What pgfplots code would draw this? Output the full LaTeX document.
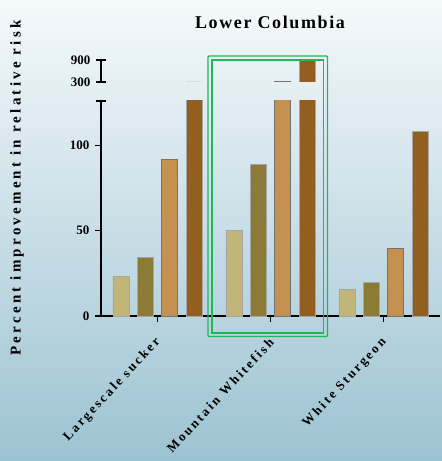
\documentclass[border=0pt]{standalone}
\usepackage{pgfplots}
\pgfplotsset{compat=1.18}
\usepackage{fontspec}
\setmainfont{Liberation Serif}
\newfontfamily\spacedA[LetterSpace=9]{Liberation Serif}
\newfontfamily\spacedB[LetterSpace=21.5]{Liberation Serif}
\newfontfamily\spacedC[LetterSpace=18]{Liberation Serif}
\definecolor{bgtop}{HTML}{F5F9FB}
\definecolor{bgmid}{HTML}{D2E6ED}
\definecolor{bgbot}{HTML}{9CC3D2}
\definecolor{cA}{HTML}{C2B57A}
\definecolor{cB}{HTML}{8C7B37}
\definecolor{cC}{HTML}{C49150}
\definecolor{cD}{HTML}{935F1F}
\definecolor{grn}{HTML}{1FB75A}
\pgfplotstableread{
x s1 s2 s3 s4
0 23.0 34.3 91.6 302
1 50.3 88.9 308 900
2 15.8 19.7 39.6 108
}\data
\pgfplotsset{
  barbase/.style={ybar, bar width=0.1416, draw=gray!70, line width=0.6pt, forget plot},
  common/.style={
    scale only axis, width=339pt, xmin=-0.5, xmax=2.5,
    axis line style={line width=1.6pt, black},
    tick style={line width=1.4pt, black},
    /pgf/number format/assume math mode=true,
    yticklabel style={font=\bfseries\fontsize{13}{13}\selectfont, xshift=-2pt},
    clip=true,
  },
}
\newcommand{\bars}{%
  \addplot[barbase, fill=cA, bar shift=-0.324] table[x=x, y=s1] {\data};
  \addplot[barbase, fill=cB, bar shift=-0.108] table[x=x, y=s2] {\data};
  \addplot[barbase, fill=cC, bar shift=0.108, draw=gray!90!black] table[x=x, y=s3] {\data};
  \addplot[barbase, fill=cD, bar shift=0.324] table[x=x, y=s4] {\data};
}
\begin{document}
\begin{tikzpicture}[x=1pt,y=1pt]
\shade[top color=bgtop, middle color=bgmid, bottom color=bgbot] (0,0) rectangle (442,461);
% lower axis
\begin{axis}[common,
  at={(101pt,145pt)}, anchor=south west, height=215pt,
  ymin=0, ymax=126,
  axis x line*=bottom, axis y line*=left,
  ytick={0,50,100},
  xtick={0,1,2},
  xticklabels={Largescale sucker, Mountain Whitefish, White Sturgeon},
  xticklabel style={font=\spacedC\bfseries\fontsize{13}{13}\selectfont, rotate=47, anchor=east, inner sep=1pt, yshift=-13.2pt, xshift=-11.9pt},
  tick align=outside, major tick length=6pt,
  extra y ticks={126}, extra y tick labels={},
  extra y tick style={tick align=center, major tick length=10pt},
]
\bars
\end{axis}
% upper axis
\begin{axis}[common,
  at={(101pt,379pt)}, anchor=south west, height=22pt,
  ymin=300, ymax=900,
  axis x line=none, axis y line*=left,
  ytick={300,900},
  tick align=center, major tick length=10pt,
  restrict y to domain=300:1000, unbounded coords=discard,
]
\bars
\end{axis}
% highlight box
\draw[grn, line width=1.3pt, rounded corners=1pt] (208,124.5) rectangle (327.5,405);
\draw[grn, line width=1.3pt] (212,128) rectangle (323.5,401);
% title and y label
\node[anchor=base, font=\spacedA\bfseries\fontsize{18}{18}\selectfont] at (270,432) {Lower Columbia};
\node[rotate=90, font=\spacedB\bfseries\fontsize{15}{15}\selectfont] at (17,273) {Percent improvement in relative risk};
\end{tikzpicture}
\end{document}
